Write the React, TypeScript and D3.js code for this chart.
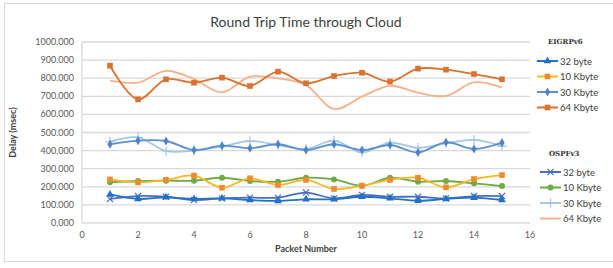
import { useEffect, useRef } from 'react';
import * as d3 from 'd3';

const packets = [1, 2, 3, 4, 5, 6, 7, 8, 9, 10, 11, 12, 13, 14, 15];

const eigrp32 = [158, 133, 142, 133, 136, 127, 122, 131, 131, 145, 136, 123, 133, 140, 127];
const eigrp10k = [241, 225, 238, 262, 195, 247, 210, 238, 188, 206, 238, 250, 197, 243, 265];
const eigrp30k = [435, 455, 453, 403, 427, 413, 435, 403, 435, 403, 431, 390, 446, 409, 444];
const eigrp64k = [869, 683, 794, 775, 803, 757, 836, 772, 812, 830, 781, 853, 847, 823, 794];

const ospf32 = [133, 149, 145, 127, 136, 140, 140, 168, 136, 155, 145, 145, 136, 149, 149];
const ospf10k = [225, 232, 234, 234, 250, 232, 228, 250, 241, 206, 250, 228, 232, 219, 204];
const ospf30k = [449, 473, 398, 400, 422, 453, 431, 409, 455, 390, 444, 416, 440, 459, 425];
const ospf64k = [786, 775, 841, 795, 722, 808, 799, 762, 630, 698, 758, 720, 702, 777, 748];

const yTicks = [0, 100, 200, 300, 400, 500, 600, 700, 800, 900, 1000];
const xTicks = [0, 2, 4, 6, 8, 10, 12, 14, 16];

const groups = [
  {
    title: 'EIGRPv6',
    series: [
      { label: '32 byte', values: eigrp32, line: '#2271C9', marker: '#2271C9', symbol: d3.symbolTriangle, size: 26, stroke: false },
      { label: '10 Kbyte', values: eigrp10k, line: '#F5B921', marker: '#F08A30', symbol: d3.symbolSquare, size: 32, stroke: false },
      { label: '30 Kbyte', values: eigrp30k, line: '#5B8FCF', marker: '#4F83C4', symbol: d3.symbolDiamond, size: 24, stroke: false },
      { label: '64 Kbyte', values: eigrp64k, line: '#D9732F', marker: '#D9732F', symbol: d3.symbolSquare, size: 32, stroke: false },
    ],
  },
  {
    title: 'OSPFv3',
    series: [
      { label: '32 byte', values: ospf32, line: '#4A6FC0', marker: '#4A6FC0', symbol: d3.symbolX, size: 26, stroke: true },
      { label: '10 Kbyte', values: ospf10k, line: '#6FAA46', marker: '#6FAA46', symbol: d3.symbolCircle, size: 28, stroke: false },
      { label: '30 Kbyte', values: ospf30k, line: '#A3C6EA', marker: '#A3C6EA', symbol: d3.symbolPlus, size: 32, stroke: true },
      { label: '64 Kbyte', values: ospf64k, line: '#F6B18C', marker: null, symbol: null, size: 0, stroke: false },
    ],
  },
];

export default function App() {
  const svgRef = useRef<SVGSVGElement>(null);

  useEffect(() => {
    const width = 613;
    const svg = d3.select(svgRef.current);
    svg.selectAll('*').remove();

    const font = 'Lato, "Open Sans", sans-serif';
    const left = 82;
    const right = 530;
    const top = 42;
    const bottom = 223;

    const x = d3.scaleLinear().domain([0, 16]).range([left, right]);
    const y = d3.scaleLinear().domain([0, 1000]).range([bottom, top]);

    // outer frame
    svg.append('rect')
      .attr('x', 4.5).attr('y', 3.5)
      .attr('width', width + 10).attr('height', 258)
      .attr('fill', '#fff')
      .attr('stroke', '#d9d9d9');

    // grid
    svg.append('g')
      .selectAll('line')
      .data(yTicks)
      .join('line')
      .attr('x1', left).attr('x2', right)
      .attr('y1', d => y(d)).attr('y2', d => y(d))
      .attr('stroke', '#d9d9d9')
      .attr('stroke-width', 1.3);

    svg.append('line')
      .attr('x1', left).attr('x2', left)
      .attr('y1', top).attr('y2', bottom)
      .attr('stroke', '#d9d9d9')
      .attr('stroke-width', 1.3);

    // y tick labels
    svg.append('g')
      .selectAll('text')
      .data(yTicks)
      .join('text')
      .attr('x', left - 8)
      .attr('y', d => y(d) + 3)
      .attr('text-anchor', 'end')
      .attr('font-family', font)
      .attr('font-size', 9)
      .attr('fill', '#595959')
      .text(d => d3.format('.3f')(d));

    // x tick labels
    svg.append('g')
      .selectAll('text')
      .data(xTicks)
      .join('text')
      .attr('x', d => x(d))
      .attr('y', bottom + 15)
      .attr('text-anchor', 'middle')
      .attr('font-family', font)
      .attr('font-size', 9)
      .attr('fill', '#595959')
      .text(d => d);

    // title and axis labels
    svg.append('text')
      .attr('x', 306).attr('y', 27)
      .attr('text-anchor', 'middle')
      .attr('font-family', font)
      .attr('font-size', 14)
      .attr('fill', '#404040')
      .text('Round Trip Time through Cloud');

    svg.append('text')
      .attr('x', 306).attr('y', 252)
      .attr('text-anchor', 'middle')
      .attr('font-family', font)
      .attr('font-size', 9)
      .attr('font-weight', 'bold')
      .attr('fill', '#404040')
      .text('Packet Number');

    svg.append('text')
      .attr('transform', `translate(16,${(top + bottom) / 2}) rotate(-90)`)
      .attr('text-anchor', 'middle')
      .attr('font-family', font)
      .attr('font-size', 9)
      .attr('font-weight', 'bold')
      .attr('fill', '#404040')
      .text('Delay (msec)');

    const line = d3.line<number>()
      .x((d, i) => x(packets[i]))
      .y(d => y(d))
      .curve(d3.curveCatmullRom.alpha(0.5));

    const drawMarker = (g: any, s: any, cx: number, cy: number) => {
      if (!s.symbol) return;
      const p = g.append('path')
        .attr('d', d3.symbol().type(s.symbol).size(s.size)())
        .attr('transform', `translate(${cx},${cy})`);
      if (s.stroke) p.attr('fill', 'none').attr('stroke', s.marker).attr('stroke-width', 1.2);
      else p.attr('fill', s.marker);
    };

    const plot = svg.append('g');
    [groups[1], groups[0]].forEach(grp => {
      grp.series.forEach(s => {
        plot.append('path')
          .datum(s.values)
          .attr('fill', 'none')
          .attr('stroke', s.line)
          .attr('stroke-width', 1.8)
          .attr('d', line);
        s.values.forEach((v, i) => drawMarker(plot, s, x(packets[i]), y(v)));
      });
    });

    // legends
    const legendPos = [
      { titleX: 548, titleY: 44, lineX: 537, itemY: 61 },
      { titleX: 549, titleY: 156, lineX: 540, itemY: 172 },
    ];
    groups.forEach((grp, gi) => {
      const p = legendPos[gi];
      const lg = svg.append('g');
      lg.append('text')
        .attr('x', p.titleX).attr('y', p.titleY)
        .attr('font-family', '"DejaVu Serif", "Liberation Serif", serif')
        .attr('font-size', 7)
        .attr('font-weight', 'bold')
        .attr('fill', '#333')
        .text(grp.title);
      grp.series.forEach((s, i) => {
        const cy = p.itemY + i * 15.5;
        lg.append('line')
          .attr('x1', p.lineX).attr('x2', p.lineX + 21)
          .attr('y1', cy).attr('y2', cy)
          .attr('stroke', s.line)
          .attr('stroke-width', 2);
        drawMarker(lg, s, p.lineX + 10.5, cy);
        lg.append('text')
          .attr('x', p.lineX + 23).attr('y', cy + 3.5)
          .attr('font-family', font)
          .attr('font-size', 9.5)
          .attr('fill', '#404040')
          .text(s.label);
      });
    });
  }, []);

  return (
    <svg
      ref={svgRef}
      width={613}
      height={268}
      style={{ position: 'absolute', left: 0, top: 0, background: '#fff' }}
    />
  );
}
